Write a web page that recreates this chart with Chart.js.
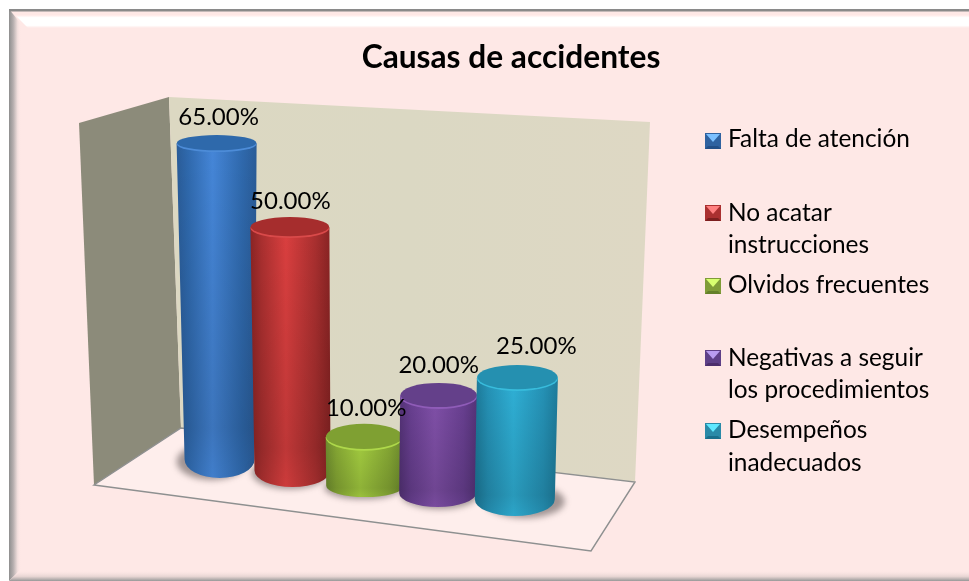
<!DOCTYPE html>
<html><head><meta charset="utf-8">
<style>html,body{margin:0;padding:0;background:#fff}#w{width:969px;height:581px;position:relative}canvas{display:block}</style>
<script src="https://cdn.jsdelivr.net/npm/chart.js@4"></script>
</head><body><div id="w"><canvas id="c" width="969" height="581"></canvas></div>
<script>
const titleText = "Causas de accidentes";
const categories = ["Falta de atención","No acatar instrucciones","Olvidos frecuentes","Negativas a seguir los procedimientos","Desempeños inadecuados"];
const values = [65,50,10,20,25];
const legendLines = [["Falta de atención"],["No acatar","instrucciones"],["Olvidos frecuentes"],["Negativas a seguir","los procedimientos"],["Desempeños","inadecuados"]];

// presentation only (perspective of the 3-D view)
const colors = [
 {mid:"#4586d8",edge:"#2a5c98",shade:"#2f69ad",top:"#2e69ab",rim:"#4d8cd8",light:"#7cc0ff",sw:"#2f62a0",swEdge:"#234f87"},
 {mid:"#da3f3f",edge:"#8a2424",shade:"#a92f2f",top:"#a62d2d",rim:"#d94a4a",light:"#ff8080",sw:"#aa3030",swEdge:"#7c1f1f"},
 {mid:"#a4cd40",edge:"#6e8c2e",shade:"#86a834",top:"#7fa032",rim:"#aed84a",light:"#d8ff70",sw:"#7f9c38",swEdge:"#64802a"},
 {mid:"#8050a8",edge:"#553378",shade:"#683f90",top:"#64408a",rim:"#8f5cb8",light:"#b89cf0",sw:"#5e4088",swEdge:"#4c2e6c"},
 {mid:"#2fb0d6",edge:"#1d7c9c",shade:"#2592b6",top:"#2590b0",rim:"#38bcdc",light:"#60e8ff",sw:"#2a8aa8",swEdge:"#1a6f8c"}];
const depthY  = [0,11,26.2,33.4,39.8];
const topRy   = [8,10,13,12.5,12.5];
const botRy   = [18.5,16.5,11.3,14.1,16.7];
const topDx   = [0,-1.9,-2.8,-3.5,0];
const botDx   = [3,0.7,-1.8,-4.5,-2.6];
const topW    = [80,79,77,77,81];
const botW    = [70,76,78,77,80];
const shadowDx= [-8,-3,-2,2,10];
const labelDx = [2,0.5,2,0,19];
const labelLift=[10,8,8,10,11];
const legendTop=[133,205,278,350,423];
const legendBase=[[147],[221,253],[293],[366,398],[438,471]];
const uiFont = "Lato, 'Open Sans', sans-serif";

const cylinders = {
 id:"cylinders",
 beforeDatasetsDraw(chart){
  const c=chart.ctx; c.save();
  // frame
  c.fillStyle="#fee8e6"; c.fillRect(10,10,959,571);
  let g=c.createLinearGradient(0,15,0,28);
  g.addColorStop(0,"rgba(255,232,230,1)");g.addColorStop(.2,"#fff");g.addColorStop(.8,"#fff");g.addColorStop(1,"rgba(255,255,255,0)");
  c.fillStyle=g;c.beginPath();c.moveTo(15,15);c.lineTo(969,15);c.lineTo(969,28);c.lineTo(28,28);c.closePath();c.fill();
  g=c.createLinearGradient(9,0,21,0);
  g.addColorStop(0,"#8e8e8e");g.addColorStop(.35,"#b5aeae");g.addColorStop(.7,"#f0dedc");g.addColorStop(1,"rgba(254,232,230,0)");
  c.fillStyle=g;c.beginPath();c.moveTo(9,9);c.lineTo(21,24);c.lineTo(21,569);c.lineTo(9,581);c.closePath();c.fill();
  g=c.createLinearGradient(0,570,0,581);
  g.addColorStop(0,"rgba(254,232,230,0)");g.addColorStop(.6,"#e6d4d2");g.addColorStop(1,"#989898");
  c.fillStyle=g;c.beginPath();c.moveTo(21,570);c.lineTo(969,570);c.lineTo(969,581);c.lineTo(9,581);c.closePath();c.fill();
  c.fillStyle="#8a8a8a";c.fillRect(9,9,960,2.5);
  c.fillStyle="#fff";c.fillRect(0,0,9,581);
  // walls
  c.fillStyle="#8c8b7a";c.beginPath();c.moveTo(79,123);c.lineTo(169,97);c.lineTo(181,428);c.lineTo(94,485);c.closePath();c.fill();
  g=c.createLinearGradient(170,0,650,0);g.addColorStop(0,"#dcd8c2");g.addColorStop(.5,"#dbd8c3");g.addColorStop(1,"#ded8c4");
  c.fillStyle=g;c.beginPath();c.moveTo(169,97);c.lineTo(650,122);c.lineTo(635,482);c.lineTo(181,428);c.closePath();c.fill();
  // floor
  c.fillStyle="#feeeec";c.strokeStyle="#8e9090";c.lineWidth=1.4;
  c.beginPath();c.moveTo(181,428);c.lineTo(635,482);c.lineTo(591,551);c.lineTo(94,485);c.closePath();c.fill();c.stroke();
  c.restore();
 },
 afterDatasetsDraw(chart){
  const c=chart.ctx, m=chart.getDatasetMeta(0);
  m.data.forEach((bar,i)=>{
   const p=bar.getProps(["x","y","base"],true), col=colors[i];
   const yT=p.y+depthY[i], yB=p.base+depthY[i];
   const xT=p.x+topDx[i], xB=p.x+botDx[i];
   const wT=topW[i]/2, wB=botW[i]/2;
   // shadow on floor
   c.save();c.filter="blur(3px)";c.fillStyle="rgba(70,60,60,.5)";
   c.beginPath();c.ellipse(xB+shadowDx[i],yB+2,wB,botRy[i],0,0,Math.PI*2);c.fill();c.restore();
   // body
   c.save();
   c.beginPath();c.moveTo(xT-wT,yT);c.lineTo(xB-wB,yB);
   c.ellipse(xB,yB,wB,botRy[i],0,Math.PI,0,true);
   c.lineTo(xT+wT,yT);c.closePath();
   let g=c.createLinearGradient(xT-wT,0,xT+wT,0);
   g.addColorStop(0,col.edge);g.addColorStop(.14,col.shade);g.addColorStop(.45,col.mid);g.addColorStop(.82,col.shade);g.addColorStop(1,col.edge);
   c.fillStyle=g;c.fill();
   g=c.createLinearGradient(0,yT,0,yB+botRy[i]);
   g.addColorStop(0,"rgba(0,0,0,0)");g.addColorStop(.85,"rgba(0,0,0,.13)");g.addColorStop(1,"rgba(0,0,0,.06)");
   c.fillStyle=g;c.fill();
   c.restore();
   // cap
   c.save();
   c.fillStyle=col.rim;c.beginPath();c.ellipse(xT,yT+.8,wT,topRy[i],0,0,Math.PI*2);c.fill();
   c.filter="blur(.7px)";
   c.fillStyle=col.top;c.beginPath();c.ellipse(xT,yT-.6,wT-.3,topRy[i]-.4,0,0,Math.PI*2);c.fill();
   c.restore();
  });
  // labels sit in front of every cylinder
  m.data.forEach((bar,i)=>{
   const p=bar.getProps(["x","y"],true);
   const yT=p.y+depthY[i], xT=p.x+topDx[i];
   c.save();c.fillStyle="#000";c.font="24px "+uiFont;c.textAlign="center";c.textBaseline="alphabetic";
   c.fillText(values[i].toFixed(2)+"%",xT+labelDx[i],yT-topRy[i]-labelLift[i]);c.restore();
  });
  // title
  c.save();c.fillStyle="#000";c.font="bold 31.7px "+uiFont;c.textAlign="center";c.textBaseline="alphabetic";
  c.fillText(titleText,511,68);c.restore();
  // legend
  legendLines.forEach((lines,i)=>{
   const x=705,y=legendTop[i],s=16,col=colors[i];
   c.save();
   c.fillStyle=col.sw;c.fillRect(x,y,s,s);
   c.fillStyle=col.swEdge;c.beginPath();c.moveTo(x,y+s);c.lineTo(x+s,y+s);c.lineTo(x+s-3,y+s-3);c.lineTo(x+3,y+s-3);c.closePath();c.fill();
   c.fillStyle=col.light;c.beginPath();c.moveTo(x+1,y+1);c.lineTo(x+s-1,y+1);c.lineTo(x+s/2,y+s/2+1);c.closePath();c.fill();
   c.fillStyle="#000";c.font="24.4px "+uiFont;c.textBaseline="alphabetic";c.textAlign="left";
   lines.forEach((t,j)=>c.fillText(t,728,legendBase[i][j]));
   c.restore();
  });
 }
};

new Chart(document.getElementById("c"),{
 type:"bar",
 data:{labels:categories,datasets:[{label:titleText,data:values,backgroundColor:"rgba(0,0,0,0)",borderWidth:0,barThickness:78}]},
 options:{
  responsive:false,animation:false,
  layout:{padding:{left:179,right:414,top:119,bottom:121.5}},
  scales:{
   x:{display:false,offset:true,grid:{display:false}},
   y:{display:false,min:0,max:70,grid:{display:false}}
  },
  plugins:{legend:{display:false},title:{display:false},tooltip:{enabled:false}}
 },
 plugins:[cylinders]
});
</script></body></html>
